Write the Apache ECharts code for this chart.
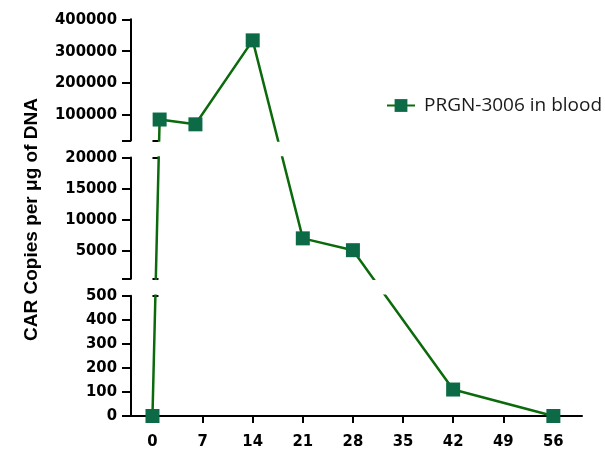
<!DOCTYPE html>
<html><head><meta charset="utf-8">
<script src="https://cdn.jsdelivr.net/npm/echarts@6/dist/echarts.min.js"></script>
<style>html,body{margin:0;padding:0;background:#fff}#c{width:605px;height:450px}</style>
</head><body><div id="c"></div>
<script>
// ---- data ----
const days = [0, 1, 6, 14, 21, 28, 42, 56];
const copies = [0, 86000, 71000, 334000, 7000, 5100, 110, 0];
const seriesName = 'PRGN-3006 in blood';
const yTitle = 'CAR Copies per μg of DNA';
const xTicks = [0, 7, 14, 21, 28, 35, 42, 49, 56];
// broken y axis segments, bottom to top
const segRanges = [[0, 500], [500, 20000], [20000, 400000]];
const segLabels = [[0, 100, 200, 300, 400, 500], [5000, 10000, 15000, 20000], [100000, 200000, 300000, 400000]];
const segTicks = [[0, 100, 200, 300, 400, 500], [500, 5000, 10000, 15000, 20000], [20000, 100000, 200000, 300000, 400000]];

// ---- layout ----
const plotTop = 19.3, segH = 121.3, gapH = 16.9, left = 131, right = 23;
const g = gapH / segH;
const lineColor = '#0b6a0b', markerColor = '#0c6b46';

function toDisplay(v) {
  for (let k = 0; k < segRanges.length; k++) {
    const [a, b] = segRanges[k];
    if (v <= b || k === segRanges.length - 1) return k * (1 + g) + (v - a) / (b - a);
  }
}
// caps at the break ends (display units)
const caps = [[1], [1 + g, 2 + g], [2 + 2 * g]];

const grids = [], xAxes = [], yAxes = [], series = [];
const axisLineStyle = { color: '#000', width: 2 };
const labelFont = { fontFamily: '"DejaVu Sans Condensed", "DejaVu Sans"', fontWeight: 'bold', fontSize: 16.5, color: '#000', formatter: v => String(v) };
for (let k = 0; k < 3; k++) {
  const j = 2 - k;
  grids.push({ left: left, right: right, top: plotTop + j * (segH + gapH), height: segH });
  xAxes.push({
    type: 'value', gridIndex: k, min: -3, max: 60, show: k === 0,
    axisLine: { show: true, onZero: false, lineStyle: axisLineStyle },
    axisTick: { show: true, length: 7, lineStyle: axisLineStyle, customValues: xTicks },
    axisLabel: Object.assign({ customValues: xTicks, margin: 17 }, labelFont),
    splitLine: { show: false }
  });
  yAxes.push({
    type: 'value', gridIndex: k, min: segRanges[k][0], max: segRanges[k][1], position: 'left',
    axisLine: { show: true, onZero: false, lineStyle: axisLineStyle },
    axisTick: { show: true, length: 9, lineStyle: axisLineStyle, customValues: segTicks[k] },
    axisLabel: Object.assign({ customValues: segLabels[k], margin: 14 }, labelFont),
    splitLine: { show: false }
  });
  const d0 = k * (1 + g);
  yAxes.push({
    type: 'value', gridIndex: k, min: d0, max: d0 + 1, position: 'left',
    axisLine: { show: false }, axisLabel: { show: false }, splitLine: { show: false },
    axisTick: { show: true, inside: true, length: 6, lineStyle: axisLineStyle, customValues: caps[k] }
  });
  series.push({
    name: seriesName, type: 'line', xAxisIndex: k, yAxisIndex: 2 * k + 1, clip: true,
    data: days.map((d, i) => [d, toDisplay(copies[i])]),
    symbol: 'rect', symbolSize: 14, showAllSymbol: true,
    lineStyle: { color: lineColor, width: 2.5 },
    itemStyle: { color: markerColor },
    emphasis: { disabled: true }
  });
}

const chart = echarts.init(document.getElementById('c'));
chart.setOption({
  animation: false,
  grid: grids, xAxis: xAxes, yAxis: yAxes, series: series,
  legend: {
    data: [seriesName], left: 381, top: 91, itemWidth: 28, itemHeight: 16,
    textStyle: { fontFamily: 'Open Sans', fontSize: 19, color: '#1a1a1a', padding: [0, 0, 0, 4] }
  },
  graphic: [{
    type: 'text', x: 32, y: 219.5, rotation: Math.PI / 2,
    style: { text: yTitle, fontFamily: 'Liberation Sans', fontWeight: 'bold', fontSize: 19, fill: '#000', align: 'center', verticalAlign: 'middle' }
  }]
});
</script></body></html>
